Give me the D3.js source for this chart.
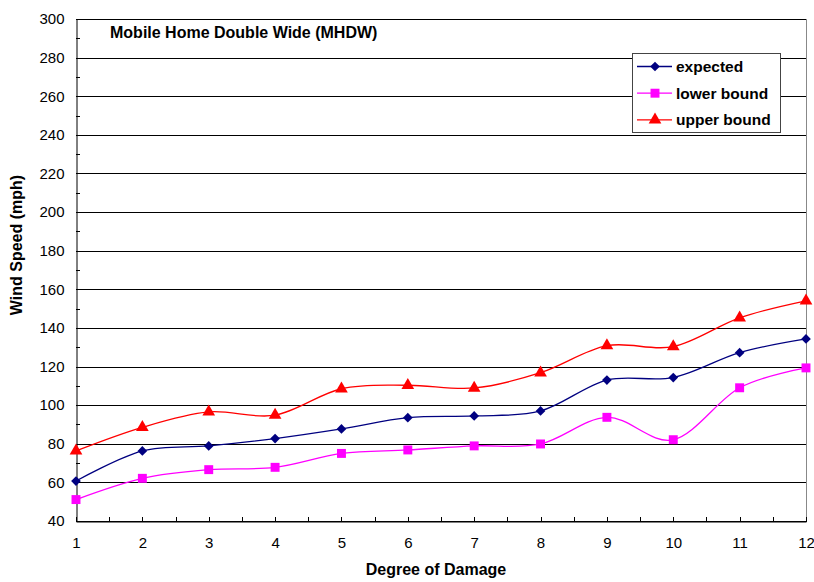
<!DOCTYPE html>
<html><head><meta charset="utf-8">
<script src="https://cdn.jsdelivr.net/npm/d3@7"></script>
<style>body{margin:0;background:#fff}svg text{font-family:"Liberation Sans",Arial,sans-serif}</style>
</head><body>
<svg id="c" width="814" height="582"></svg>
<script>
const categories = [1,2,3,4,5,6,7,8,9,10,11,12];
const expected = [60.7,76.3,78.9,82.7,87.7,93.5,94.4,97,113,114.3,127.2,134.3];
const lowerBound = [51.1,62.1,66.6,67.8,75,76.8,78.9,79.9,93.7,82.1,109,119.3];
const upperBound = [76.3,88.5,96.5,94.8,108.5,110.3,108.9,116.8,130.8,130.3,145.2,154];
const yTicks = [40,60,80,100,120,140,160,180,200,220,240,260,280,300];
const seriesNames = ["expected","lower bound","upper bound"];
const colors = ["#000080","#FF00FF","#FF0000"];
const title = "Mobile Home Double Wide (MHDW)";

const svg = d3.select("#c");
const L=76,R=806,T=19,B=521;
const x = d3.scaleLinear().domain([1,12]).range([L,R]);
const y = d3.scaleLinear().domain([40,300]).range([B,T]);

// gridlines
svg.append("g").selectAll("line").data(yTicks).join("line")
  .attr("x1",L).attr("x2",R).attr("y1",d=>Math.round(y(d))+0.5).attr("y2",d=>Math.round(y(d))+0.5)
  .attr("stroke","#000").attr("stroke-width",1);
// right border
svg.append("line").attr("x1",R+0.5).attr("x2",R+0.5).attr("y1",T).attr("y2",B).attr("stroke","#888");

// y axis
const yAxis = d3.axisLeft(y).tickValues(yTicks).tickSize(0).tickPadding(12);
const gy = svg.append("g").attr("transform",`translate(${L+0.5},0)`).call(yAxis);
gy.select(".domain").attr("stroke","#000");
gy.selectAll("text").attr("font-size",15).attr("fill","#000");
// y minor ticks
svg.append("g").selectAll("line").data(d3.range(50,300,20)).join("line")
  .attr("x1",L).attr("x2",L+4).attr("y1",d=>Math.round(y(d))+0.5).attr("y2",d=>Math.round(y(d))+0.5)
  .attr("stroke","#000");

// x axis
const xAxis = d3.axisBottom(x).tickValues(categories).tickSize(0).tickPadding(16).tickFormat(d3.format("d"));
const gx = svg.append("g").attr("transform",`translate(0,${B+0.5})`).call(xAxis);
gx.select(".domain").attr("stroke","#000");
gx.selectAll("text").attr("font-size",15).attr("fill","#000");
svg.append("g").selectAll("line").data(d3.range(1,12.01,0.5)).join("line")
  .attr("x1",d=>Math.round(x(d))+0.5).attr("x2",d=>Math.round(x(d))+0.5).attr("y1",B-4).attr("y2",B+1)
  .attr("stroke","#000");

// series
const data = [expected,lowerBound,upperBound];
const line = d3.line().x((d,i)=>x(categories[i])).y(d=>y(d)).curve(d3.curveCardinal.tension(0));
const symbols = [d3.symbolDiamond2, d3.symbolSquare, d3.symbolTriangle];
const symSizes = [60, 80, 70];
data.forEach((s,k)=>{
  svg.append("path").attr("d",line(s)).attr("fill","none").attr("stroke",colors[k]).attr("stroke-width",1.3);
  svg.append("g").selectAll("path").data(s).join("path")
    .attr("transform",(d,i)=>`translate(${x(categories[i])},${y(d)})`)
    .attr("d",d3.symbol(symbols[k],symSizes[k])).attr("fill",colors[k]);
});

// title
svg.append("text").attr("x",110).attr("y",38).attr("font-size",16).attr("font-weight","bold").text(title);
// axis titles
svg.append("text").attr("transform","translate(22,245) rotate(-90)").attr("text-anchor","middle")
  .attr("font-size",16).attr("font-weight","bold").text("Wind Speed (mph)");
svg.append("text").attr("x",436).attr("y",575).attr("text-anchor","middle")
  .attr("font-size",16).attr("font-weight","bold").text("Degree of Damage");

// legend
const lg = svg.append("g");
lg.append("rect").attr("x",632.5).attr("y",53.5).attr("width",148).attr("height",79)
  .attr("fill","#fff").attr("stroke","#444").attr("stroke-width",1);
seriesNames.forEach((n,k)=>{
  const ly = 66.5 + k*26.7;
  lg.append("line").attr("x1",637).attr("x2",672).attr("y1",ly).attr("y2",ly).attr("stroke",colors[k]).attr("stroke-width",1.3);
  lg.append("path").attr("transform",`translate(655,${ly})`).attr("d",d3.symbol(symbols[k],symSizes[k])).attr("fill",colors[k]);
  lg.append("text").attr("x",676).attr("y",ly+5.5).attr("font-size",15.5).attr("font-weight","bold").text(n);
});
</script>
</body></html>
